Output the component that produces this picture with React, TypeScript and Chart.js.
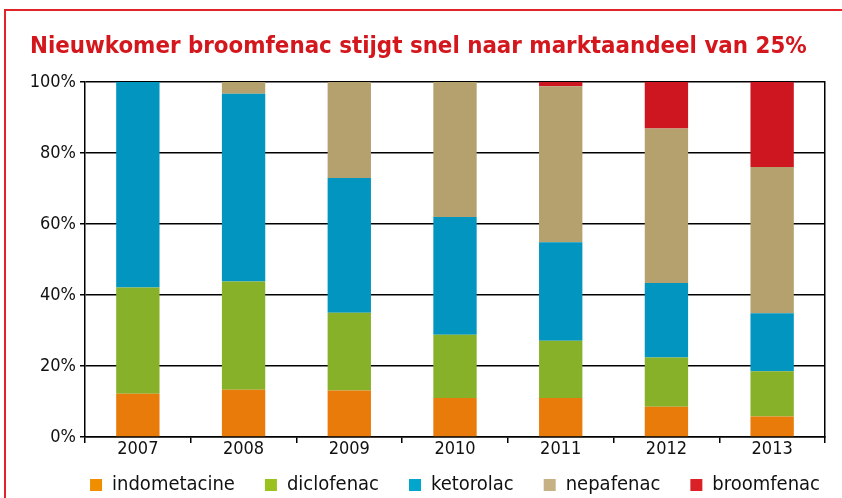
import React, { useEffect, useRef } from "react";
import { Chart, registerables } from "chart.js";

Chart.register(...registerables);

const years = ["2007", "2008", "2009", "2010", "2011", "2012", "2013"];
const indometacine = [12.2, 13.3, 13.1, 11.0, 11.0, 8.5, 5.8];
const diclofenac = [29.9, 30.5, 21.9, 17.8, 16.1, 13.9, 12.7];
const ketorolac = [57.9, 52.9, 38.0, 33.2, 27.8, 21.0, 16.4];
const nepafenac = [0, 3.3, 27.0, 38.0, 43.9, 43.5, 41.2];
const broomfenac = [0, 0, 0, 0, 1.2, 13.1, 23.9];
const seriesNames = ["indometacine", "diclofenac", "ketorolac", "nepafenac", "broomfenac"];
const barColors = ["#E87B09", "#88B12A", "#0295C0", "#B4A16E", "#CE1620"];
const legendColors = ["#EF8F00", "#9BC11F", "#02A5CB", "#C6B185", "#DA2128"];
const yTicks = [0, 20, 40, 60, 80, 100];
const title = "Nieuwkomer broomfenac stijgt snel naar marktaandeel van 25%";

const FONT = "'DejaVu Sans Condensed', 'DejaVu Sans', sans-serif";

const legendPlace = {
  id: "legendPlace",
  afterLayout(chart: any) {
    const lg = chart.legend;
    if (!lg) return;
    const h = lg.height;
    lg.left += 25;
    lg.right += 25;
    lg.top = 445;
    lg.bottom = 445 + h;
  },
};

export default function App() {
  const ref = useRef<HTMLCanvasElement | null>(null);
  useEffect(() => {
    if (!ref.current) return;
    const values = [indometacine, diclofenac, ketorolac, nepafenac, broomfenac];
    const chart = new Chart(ref.current, {
      type: "bar",
      data: {
        labels: years,
        datasets: values.map((v, i) => ({
          label: seriesNames[i],
          data: v,
          backgroundColor: barColors[i],
          borderWidth: 0,
          barPercentage: 0.41,
          categoryPercentage: 1,
        })),
      },
      plugins: [legendPlace],
      options: {
        animation: false,
        responsive: false,
        maintainAspectRatio: false,
        layout: { padding: { left: 30, right: 17, top: 0, bottom: 0 } },
        plugins: {
          tooltip: { enabled: false },
          title: {
            display: true,
            text: title,
            align: "start",
            color: "#D4161D",
            font: { family: FONT, size: 23.8, weight: "bold", lineHeight: 1.2 },
            padding: { top: 33, bottom: 20.5 },
          },
          legend: {
            position: "bottom",
            align: "end",
            labels: {
              color: "#111",
              font: { family: FONT, size: 20 },
              boxWidth: 12,
              boxHeight: 12,
              padding: 30,
              generateLabels: () =>
                seriesNames.map((n, i) => ({
                  text: n,
                  fillStyle: legendColors[i],
                  strokeStyle: legendColors[i],
                  lineWidth: 0,
                  hidden: false,
                  datasetIndex: i,
                  fontColor: "#111",
                })),
            },
          },
        },
        scales: {
          x: {
            stacked: true,
            grid: {
              offset: true,
              drawOnChartArea: false,
              drawTicks: true,
              tickLength: 6,
              color: "#000",
              lineWidth: 1.5,
            },
            border: { display: true, color: "#000", width: 1.5 },
            ticks: { color: "#111", font: { family: FONT, size: 18 }, padding: -4 },
            afterFit: (s: any) => {
              s.height = 32;
            },
          },
          y: {
            stacked: true,
            min: 0,
            max: 100,
            afterBuildTicks: (s: any) => {
              s.ticks = yTicks.map((v) => ({ value: v }));
            },
            ticks: {
              color: "#111",
              font: { family: FONT, size: 18 },
              padding: 4,
              callback: (v: any) => v + "%",
            },
            grid: { color: "#000", lineWidth: 1.5, tickLength: 5, drawTicks: true },
            border: { display: true, color: "#000", width: 1.5 },
            afterFit: (s: any) => {
              s.width = 55;
            },
          },
          y2: {
            position: "right",
            min: 0,
            max: 100,
            ticks: { display: false },
            grid: { drawOnChartArea: false, drawTicks: false },
            border: { display: true, color: "#000", width: 1.5 },
            afterFit: (s: any) => {
              s.width = 0;
            },
          },
        },
      },
    });
    return () => chart.destroy();
  }, []);
  return (
    <div
      style={{
        position: "fixed",
        left: 0,
        top: 0,
        width: 842,
        height: 498,
        overflow: "hidden",
        background: "#fff",
      }}
    >
      <div
        style={{
          position: "absolute",
          left: 4,
          top: 9,
          width: 900,
          height: 600,
          border: "2px solid #E2232A",
          boxSizing: "border-box",
        }}
      />
      <canvas
        ref={ref}
        width={842}
        height={529}
        style={{ position: "absolute", left: 0, top: 0 }}
      />
    </div>
  );
}
